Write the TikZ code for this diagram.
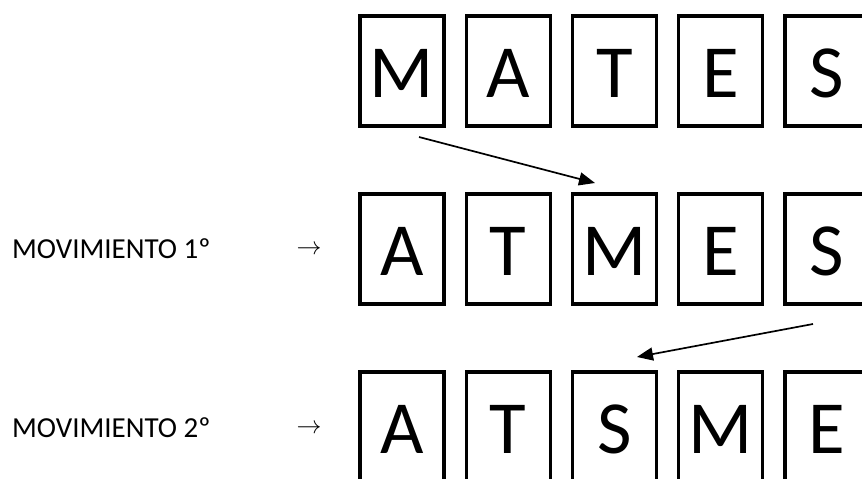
\documentclass[tikz,border=0pt]{standalone}
\usepackage{fontspec}
\setmainfont{Carlito}
\usetikzlibrary{arrows.meta}
\tikzset{
  letterbox/.style={draw=black, line width=3.2pt, minimum width=84pt, minimum height=110pt,
    inner sep=0pt, text height=53pt, text depth=0pt, font=\fontsize{75}{75}\selectfont},
  movelabel/.style={anchor=base west, inner sep=0pt, font=\fontsize{29}{29}\selectfont},
  arrowsign/.style={inner sep=0pt, font=\fontsize{30}{30}\selectfont},
  movearrow/.style={line width=1.7pt, -{Triangle[length=16pt,width=13pt]}}
}
\begin{document}
\begin{tikzpicture}[x=1pt,y=-1pt]
\clip (0,0) rectangle (862,479);
\fill[white] (0,0) rectangle (862,479);
% row 1
\node[letterbox] (r1a) at (402,71) {M};
\node[letterbox] (r1b) at (508.25,71) {A};
\node[letterbox] (r1c) at (614.5,71) {T};
\node[letterbox] (r1d) at (720.75,71) {E};
\node[letterbox] (r1e) at (827,71) {S};
% row 2
\node[letterbox] (r2a) at (402,249) {A};
\node[letterbox] (r2b) at (508.25,249) {T};
\node[letterbox] (r2c) at (614.5,249) {M};
\node[letterbox] (r2d) at (720.75,249) {E};
\node[letterbox] (r2e) at (827,249) {S};
% row 3
\node[letterbox] (r3a) at (402,427) {A};
\node[letterbox] (r3b) at (508.25,427) {T};
\node[letterbox] (r3c) at (614.5,427) {S};
\node[letterbox] (r3d) at (720.75,427) {M};
\node[letterbox] (r3e) at (827,427) {E};
% labels
\node[movelabel] (l1) at (12,258) {MOVIMIENTO 1º};
\node[movelabel] (l2) at (12,437) {MOVIMIENTO 2º};
\node[arrowsign] (s1) at (309,250) {$\rightarrow$};
\node[arrowsign] (s2) at (309,429) {$\rightarrow$};
% moves
\coordinate (m1s) at (419,137);
\coordinate (m1e) at (595,183);
\coordinate (m2s) at (813,324);
\coordinate (m2e) at (637,357);
\draw[movearrow] (m1s) -- (m1e);
\draw[movearrow] (m2s) -- (m2e);
\end{tikzpicture}
\end{document}
